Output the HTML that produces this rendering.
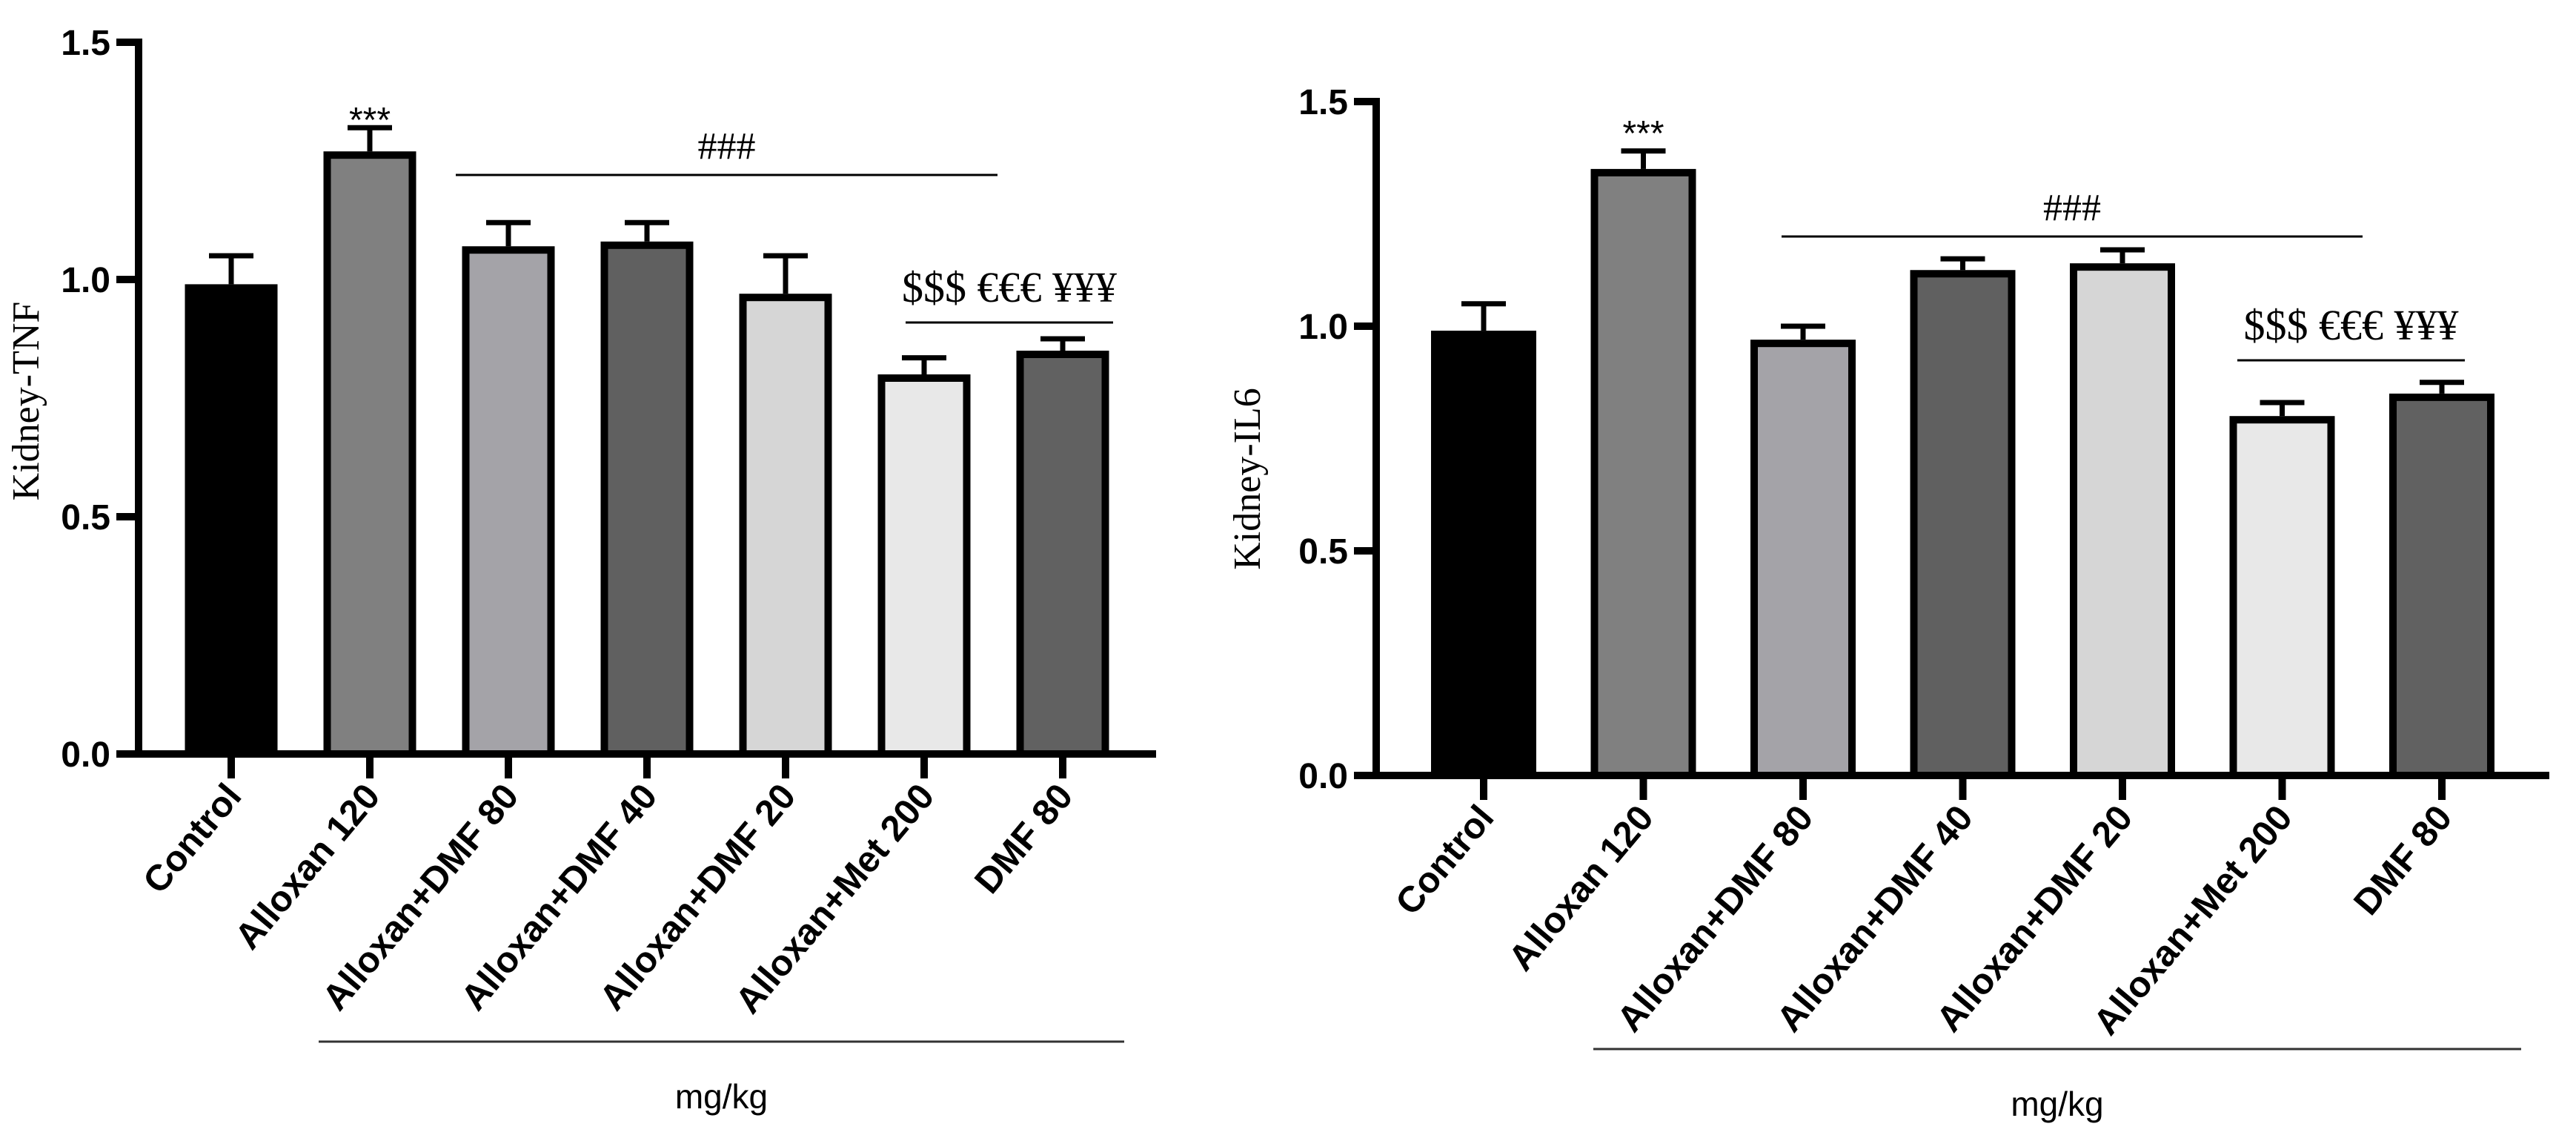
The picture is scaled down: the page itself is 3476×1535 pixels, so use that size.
<!DOCTYPE html>
<html><head><meta charset="utf-8"><style>
html,body{margin:0;padding:0;background:#fff;}
svg{display:block;}
</style></head><body>
<svg id="fig" width="3476" height="1535" viewBox="0 0 3476 1535" xmlns="http://www.w3.org/2000/svg"></svg>
<script>
const categories = ["Control","Alloxan 120","Alloxan+DMF 80","Alloxan+DMF 40","Alloxan+DMF 20","Alloxan+Met 200","DMF 80"];
const tnfValues = [0.99,1.27,1.07,1.08,0.97,0.80,0.85];
const tnfErrors = [0.06,0.05,0.05,0.04,0.08,0.035,0.025];
const il6Values = [0.99,1.35,0.97,1.125,1.14,0.80,0.85];
const il6Errors = [0.06,0.04,0.03,0.025,0.03,0.03,0.025];
const yTicks = [0.0,0.5,1.0,1.5];
const tickLabels = ["0.0","0.5","1.0","1.5"];
const barColors = ["#000000","#808080","#a4a3a8","#606060","#d6d6d6","#e8e8e8","#616161"];

const NS="http://www.w3.org/2000/svg";
const svg=document.getElementById('fig');
function el(tag,attrs,parent){const e=document.createElementNS(NS,tag);for(const k in attrs)e.setAttribute(k,attrs[k]);(parent||svg).appendChild(e);return e;}

function drawChart(cfg){
  const g=el('g',{});
  
  
  const yScale=v=>cfg.y0+(cfg.y15-cfg.y0)*(v/1.5);
  const xScale=i=>cfg.x0+i*cfg.step;
  cfg.values.forEach((v,i)=>{
    const cx=xScale(i), top=yScale(v), bw=cfg.bw;
    const errTop=yScale(v+cfg.errors[i]);
    const eb=el('line',{x1:cx,x2:cx,y1:top,y2:errTop,stroke:'#000','stroke-width':7},g);
    
    
    const cap=el('line',{x1:cx-30,x2:cx+30,y1:errTop,y2:errTop,stroke:'#000','stroke-width':7},g);
    
    
    const r=el('rect',{x:cx-bw/2+5,y:top+5,width:bw-10,height:cfg.y0-top-5,fill:barColors[i],stroke:'#000','stroke-width':10},g);
    
    
    const t=el('line',{x1:cx,x2:cx,y1:cfg.y0,y2:cfg.y0+33,stroke:'#000','stroke-width':10},g);
    
    
    const lx=cx+16, ly=cfg.y0+58;
    const lab=el('text',{x:lx,y:ly,'text-anchor':'end',transform:`rotate(-50 ${lx} ${ly})`,'font-family':'Liberation Sans, sans-serif','font-weight':'bold','font-size':49,fill:'#000'},g);
    lab.textContent=categories[i];
    
    
  });
  const ya=el('line',{x1:cfg.ax,x2:cfg.ax,y1:cfg.y15-5,y2:cfg.y0+5,stroke:'#000','stroke-width':10},g);
  
  
  const xa=el('line',{x1:cfg.ax-5,x2:cfg.xend,y1:cfg.y0,y2:cfg.y0,stroke:'#000','stroke-width':10},g);
  
  
  yTicks.forEach((v,i)=>{
    const y=yScale(v);
    const tk=el('line',{x1:cfg.ax-30,x2:cfg.ax,y1:y,y2:y,stroke:'#000','stroke-width':10},g);
    
    
    const tl=el('text',{x:cfg.ax-38,y:y+17,'text-anchor':'end','font-family':'Liberation Sans, sans-serif','font-weight':'bold','font-size':48,fill:'#000'},g);
    tl.textContent=tickLabels[i];
    
    
  });
  const yt=el('text',{x:cfg.ytx,y:cfg.yty,'text-anchor':'middle',transform:`rotate(-90 ${cfg.ytx} ${cfg.yty})`,'font-family':'Liberation Serif, serif','font-size':52,fill:'#000'},g);
  yt.textContent=cfg.ytitle;
  
  
  const star=el('text',{x:xScale(1),y:cfg.starY,'text-anchor':'middle','font-family':'Liberation Sans, sans-serif','font-size':48,fill:'#000'},g);
  star.textContent='***';
  
  
  const hl=el('line',{x1:cfg.hash[0],x2:cfg.hash[1],y1:cfg.hash[2],y2:cfg.hash[2],stroke:'#000','stroke-width':3},g);
  
  
  const ht=el('text',{x:(cfg.hash[0]+cfg.hash[1])/2,y:cfg.hash[2]-22,'text-anchor':'middle','font-family':'Liberation Serif, serif','font-size':52,fill:'#000'},g);
  ht.textContent='###';
  
  
  const dl=el('line',{x1:cfg.dol[0],x2:cfg.dol[1],y1:cfg.dol[2],y2:cfg.dol[2],stroke:'#000','stroke-width':3},g);
  
  
  const dt=el('text',{x:(cfg.dol[0]+cfg.dol[1])/2,y:cfg.dol[2]-28,'text-anchor':'middle','font-family':'Liberation Serif, serif','font-size':58,fill:'#000','xml:space':'preserve'},g);
  dt.textContent=cfg.dolText;
  
  
  const ml=el('line',{x1:cfg.mg[0],x2:cfg.mg[1],y1:cfg.mg[2],y2:cfg.mg[2],stroke:'#333','stroke-width':3},g);
  
  
  const mt=el('text',{x:(cfg.mg[0]+cfg.mg[1])/2,y:cfg.mg[2]+90,'text-anchor':'middle','font-family':'Liberation Sans, sans-serif','font-size':46,fill:'#000'},g);
  mt.textContent='mg/kg';
  
  
}

drawChart({name:'kidney-tnf-chart',ax:187,y0:1017,y15:57,x0:312,step:187,bw:125,xend:1560,
  values:tnfValues,errors:tnfErrors,ytitle:'Kidney-TNF',ytx:52,yty:541,starY:178,
  hash:[615,1346,236],dol:[1222,1502,435],dolText:'$$$ €€€ ¥¥¥',mg:[430,1517,1405]});
drawChart({name:'kidney-il6-chart',ax:1857,y0:1046,y15:137,x0:2002,step:215.5,bw:142,xend:3440,
  values:il6Values,errors:il6Errors,ytitle:'Kidney-IL6',ytx:1700,yty:646,starY:196,
  hash:[2404,3188,319],dol:[3019,3326,486],dolText:'$$$  €€€  ¥¥¥',mg:[2150,3402,1415]});
</script>
</body></html>
